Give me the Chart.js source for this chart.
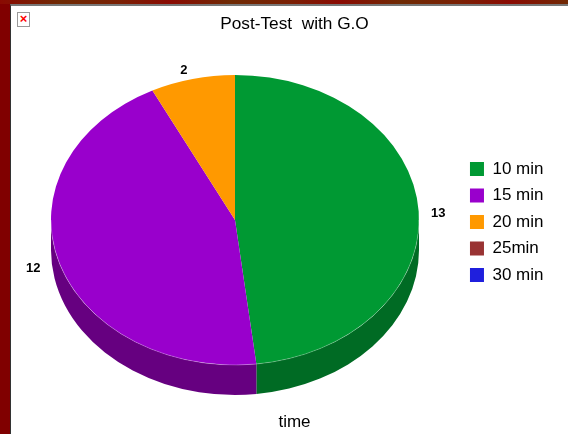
<!DOCTYPE html>
<html>
<head>
<meta charset="utf-8">
<title>Post-Test with G.O</title>
<script src="https://cdn.jsdelivr.net/npm/chart.js@4/dist/chart.umd.min.js"></script>
<style>
    html, body { margin: 0; height: 100%; overflow: hidden; background: #800000; }
    #topStrip {
        position: absolute; left: 0; top: 0; width: 568px; height: 4px;
        background: repeating-linear-gradient(90deg, #8a0a02 0, #6e2a04 60px, #7a2004 120px, #8a0a02 170px);
    }
    #panel {
        position: absolute; left: 10px; top: 4px; width: 558px; height: 430px;
        background: #fff; border-left: 1px solid #333; border-top: 2px solid #777; box-sizing: border-box;
    }
    #noImage {
        position: absolute; left: 17px; top: 12px; width: 13px; height: 15px; box-sizing: border-box;
        border: 1px solid #999; color: #f00; font: bold 13px/12px "Liberation Sans", sans-serif; text-align: center;
    }
    #chartBox { position: absolute; left: 21px; top: 0; }
</style>
</head>
<body>
<div id="topStrip"></div>
<div id="panel"></div>
<div id="noImage">×</div>
<div id="chartBox"><canvas id="pieChart" width="547" height="434"></canvas></div>
<script>
const categories = ['10 min', '15 min', '20 min', '25min', '30 min'];
const counts = [13, 12, 2, 0, 0];
const sliceColors = ['#009933', '#9900cc', '#ff9900', '#993333', '#1f1fdd'];
const wallColors = ['#006b24', '#660080', '#b36b00', '#6b2424', '#15159b'];

const chartTitle = 'Post-Test  with G.O';
const axisTitle = 'time';

// where the tilted pie sits, in canvas pixels
const pieX = 214;
const pieY = 220;
const radiusX = 184;
const radiusY = 145;
const depth = 30;

const fontFamily = '"Liberation Sans", Arial, sans-serif';

// front part of a slice's rim, if it has one
const frontRange = (arc) => {
    const from = Math.max(arc.startAngle, 0);
    const to = Math.min(arc.endAngle, Math.PI);
    return to > from ? [from, to] : null;
};

// Chart.js only draws round pies, so squash the whole thing and add a side wall
const tiltedPie = {
    id: 'tiltedPie',
    beforeDatasetsDraw(chart) {
        const ctx = chart.ctx;
        const arcs = chart.getDatasetMeta(0).data;
        const squash = radiusY / radiusX;

        ctx.save();
        ctx.translate(pieX, pieY);
        ctx.scale(1, squash);
        ctx.translate(-arcs[0].x, -arcs[0].y);

        arcs.forEach((arc, i) => {
            const range = frontRange(arc);
            if (!range) return;
            ctx.beginPath();
            ctx.arc(arc.x, arc.y, arc.outerRadius, range[0], range[1]);
            ctx.arc(arc.x, arc.y + depth / squash, arc.outerRadius, range[1], range[0], true);
            ctx.closePath();
            ctx.fillStyle = wallColors[i];
            ctx.fill();
        });
    },
    afterDatasetsDraw(chart) {
        const ctx = chart.ctx;
        const arcs = chart.getDatasetMeta(0).data;

        // thin pale edge where the top face meets the wall
        arcs.forEach((arc) => {
            const range = frontRange(arc);
            if (!range) return;
            ctx.beginPath();
            ctx.arc(arc.x, arc.y, arc.outerRadius, range[0], range[1]);
            ctx.strokeStyle = 'rgba(255, 255, 255, 0.3)';
            ctx.lineWidth = 1;
            ctx.stroke();
        });
        ctx.restore();

        // value labels around the rim
        ctx.save();
        ctx.font = 'bold 13px ' + fontFamily;
        ctx.fillStyle = '#000';
        ctx.textAlign = 'center';
        ctx.textBaseline = 'middle';
        arcs.forEach((arc, i) => {
            if (!counts[i]) return;
            const mid = (arc.startAngle + arc.endAngle) / 2;
            ctx.fillText(counts[i], pieX - 3.5 + Math.cos(mid) * 207, pieY + 3 + Math.sin(mid) * 157);
        });
        ctx.restore();
    }
};

new Chart(document.getElementById('pieChart').getContext('2d'), {
    type: 'pie',
    data: {
        labels: categories,
        datasets: [{
            data: counts,
            backgroundColor: sliceColors,
            borderWidth: 0,
            clip: false
        }]
    },
    options: {
        responsive: false,
        animation: false,
        radius: radiusX,
        layout: { padding: { left: 14.5, right: 14.5, top: 10 } },
        plugins: {
            title: {
                display: true,
                text: chartTitle,
                color: '#000',
                font: { family: fontFamily, size: 17.25, weight: 'normal' },
                padding: { top: 4, bottom: 10 }
            },
            subtitle: {
                display: true,
                text: axisTitle,
                position: 'bottom',
                color: '#000',
                font: { family: fontFamily, size: 17, weight: 'normal' },
                padding: { top: 5, bottom: 1 }
            },
            legend: {
                position: 'right',
                labels: {
                    boxWidth: 14,
                    boxHeight: 14,
                    padding: 9.5,
                    color: '#000',
                    font: { family: fontFamily, size: 17 }
                }
            },
            tooltip: { enabled: false }
        }
    },
    plugins: [tiltedPie]
});
</script>
</body>
</html>
